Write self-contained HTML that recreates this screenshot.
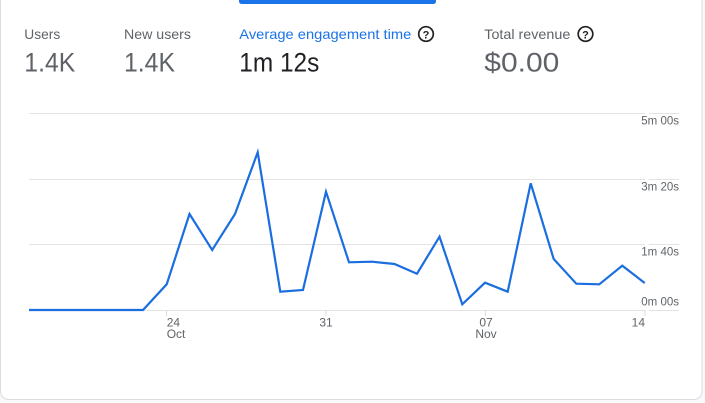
<!DOCTYPE html>
<html>
<head>
<meta charset="utf-8">
<style>
  html, body { margin: 0; padding: 0; }
  body { width: 705px; height: 403px; background: #f8f9fa; overflow: hidden; position: relative; }
  svg { position: absolute; left: 0; top: 0; }
  text { font-family: "Liberation Sans", Arial, sans-serif; }
</style>
</head>
<body>
<svg width="705" height="403" viewBox="0 0 705 403" xmlns="http://www.w3.org/2000/svg">
  <!-- card -->
  <rect x="0.5" y="-8" width="701.5" height="407.5" rx="8" ry="8" fill="#ffffff" stroke="#dadce0" stroke-width="1"/>
  <!-- selected tab bar -->
  <path d="M239 0 H436 V1 Q436 4 433 4 H242 Q239 4 239 1 Z" fill="#1a73e8"/>

  <!-- header metrics -->
  <text x="24.3" y="39" font-size="14" fill="#5f6368" textLength="36" lengthAdjust="spacingAndGlyphs">Users</text>
  <text x="24.3" y="71.7" font-size="27" fill="#5f6368" textLength="51" lengthAdjust="spacingAndGlyphs">1.4K</text>

  <text x="124" y="39" font-size="14" fill="#5f6368" textLength="67" lengthAdjust="spacingAndGlyphs">New users</text>
  <text x="124" y="71.7" font-size="27" fill="#5f6368" textLength="51" lengthAdjust="spacingAndGlyphs">1.4K</text>

  <text x="239.3" y="39" font-size="14" fill="#1a73e8" textLength="172" lengthAdjust="spacingAndGlyphs">Average engagement time</text>
  <circle cx="426" cy="34" r="7.3" fill="none" stroke="#202124" stroke-width="1.7"/>
  <text x="426" y="38.3" font-size="11" font-weight="bold" fill="#202124" text-anchor="middle">?</text>
  <text x="239.3" y="71.7" font-size="27" fill="#202124" textLength="80" lengthAdjust="spacingAndGlyphs">1m 12s</text>

  <text x="484.3" y="39" font-size="14" fill="#5f6368" textLength="86" lengthAdjust="spacingAndGlyphs">Total revenue</text>
  <circle cx="585.5" cy="34" r="7.3" fill="none" stroke="#202124" stroke-width="1.7"/>
  <text x="585.5" y="38.3" font-size="11" font-weight="bold" fill="#202124" text-anchor="middle">?</text>
  <text x="484.3" y="71.7" font-size="27" fill="#5f6368" textLength="75" lengthAdjust="spacingAndGlyphs">$0.00</text>

  <!-- gridlines -->
  <g stroke="#e3e3e3" stroke-width="1">
    <line x1="29" y1="113.5" x2="645" y2="113.5"/>
    <line x1="649" y1="113.5" x2="679" y2="113.5"/>
    <line x1="29" y1="179.5" x2="645" y2="179.5"/>
    <line x1="649" y1="179.5" x2="679" y2="179.5"/>
    <line x1="29" y1="244.5" x2="645" y2="244.5"/>
    <line x1="649" y1="244.5" x2="679" y2="244.5"/>
    <line x1="29" y1="310.5" x2="645" y2="310.5"/>
    <line x1="649" y1="310.5" x2="679" y2="310.5"/>
  </g>
  <!-- x ticks -->
  <g stroke="#dadce0" stroke-width="1">
    <line x1="166.5" y1="310" x2="166.5" y2="316"/>
    <line x1="326" y1="310" x2="326" y2="316"/>
    <line x1="485.5" y1="310" x2="485.5" y2="316"/>
    <line x1="645" y1="310" x2="645" y2="316"/>
  </g>

  <!-- y labels -->
  <g font-size="11.5" fill="#5f6368" text-anchor="end">
    <text x="679" y="124.3">5m 00s</text>
    <text x="679" y="190.3">3m 20s</text>
    <text x="679" y="255.7">1m 40s</text>
    <text x="679" y="305.7">0m 00s</text>
  </g>

  <!-- x labels -->
  <g font-size="12" fill="#5f6368">
    <text x="166.7" y="326.5">24</text>
    <text x="166.7" y="338">Oct</text>
    <text x="326" y="326.5" text-anchor="middle">31</text>
    <text x="486" y="326.5" text-anchor="middle">07</text>
    <text x="486" y="338" text-anchor="middle">Nov</text>
    <text x="645" y="326.5" text-anchor="end">14</text>
  </g>

  <!-- data line -->
  <polyline fill="none" stroke="#1a6ee0" stroke-width="2.2" stroke-linejoin="miter" stroke-linecap="butt"
    points="29,310 51.8,310 74.6,310 97.4,310 120.2,310 143,310 166.7,284.3 189.5,214 212.2,250 235,214 257.7,152.3 280.3,291.7 303,290 326,191.7 349,262.3 372,261.7 394.5,264 417,273.7 439.5,236.7 462.3,304.3 485,282.7 507.7,291.7 530.7,183.3 553.7,259 576.3,283.7 599.3,284.3 622.3,265.7 644.7,283"/>
</svg>
</body>
</html>
